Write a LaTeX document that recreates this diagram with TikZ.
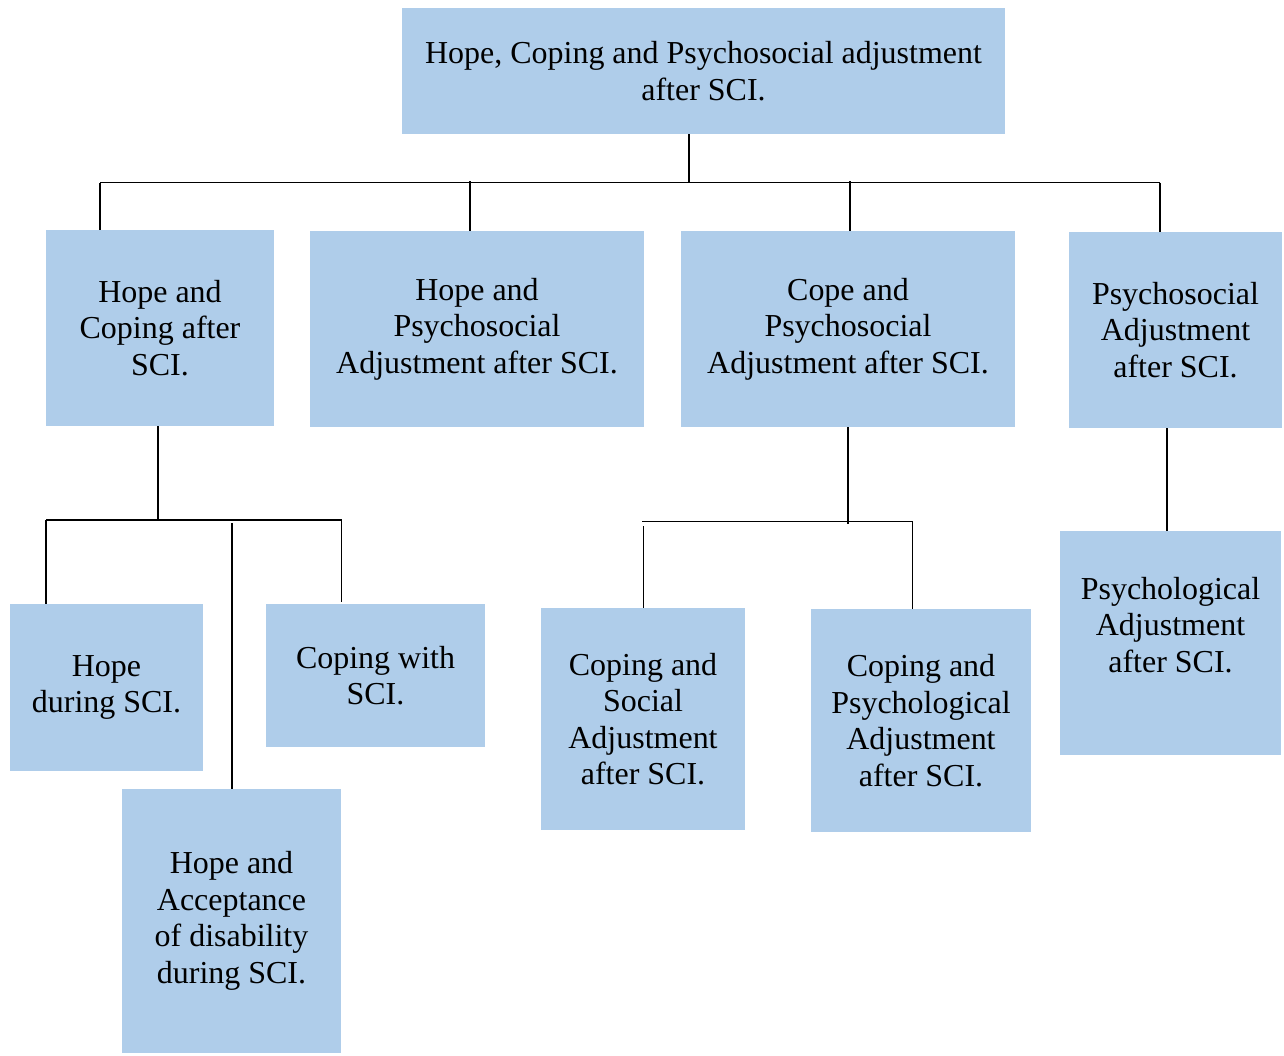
\documentclass[tikz,border=0pt]{standalone}
\usepackage{fontspec}
\setmainfont{Liberation Serif}
\usepackage{xcolor}
\usetikzlibrary{positioning}
\definecolor{boxblue}{RGB}{175,205,234}
\tikzset{
  topic/.style={rectangle, fill=boxblue, draw=none, inner sep=0pt,
                align=center, font=\fontsize{18.2}{20.8}\selectfont},
  link/.style={draw=black, line width=0.9pt},
}

\begin{document}
\begin{tikzpicture}[x=0.02cm, y=-0.02cm]
\useasboundingbox (0,0) rectangle (1284,1055);

% main theme
\node[topic, minimum width=12.06cm, minimum height=2.52cm] (main) at (703.5,71)
      {Hope, Coping and Psychosocial adjustment\\after SCI.};

% sub themes
\node[topic, minimum width=4.56cm, minimum height=3.92cm] (hopecope) at (160,328)
      {Hope and\\Coping after\\SCI.};
\node[topic, minimum width=6.68cm, minimum height=3.92cm] (hopepsy) at (477,329)
      {Hope and\\Psychosocial\\Adjustment after SCI.};
\node[topic, minimum width=6.68cm, minimum height=3.92cm] (copepsy) at (848,329)
      {Cope and\\Psychosocial\\Adjustment after SCI.};
\node[topic, minimum width=4.26cm, minimum height=3.92cm] (psyadj) at (1175.5,330)
      {Psychosocial\\Adjustment\\after SCI.};

% third level
\node[topic, minimum width=3.86cm, minimum height=3.34cm] (hopeduring) at (106.5,687.5)
      {Hope\\during SCI.};
\node[topic, minimum width=4.38cm, minimum height=2.86cm] (copewith) at (375.5,675.5)
      {Coping with\\SCI.};
\node[topic, minimum width=4.38cm, minimum height=5.28cm] (hopeaccept) at (231.5,921)
      {Hope and\\Acceptance\\of disability\\during SCI.};
\node[topic, minimum width=4.08cm, minimum height=4.44cm] (copesocial) at (643,719)
      {Coping and\\Social\\Adjustment\\after SCI.};
\node[topic, minimum width=4.40cm, minimum height=4.46cm] (copepsych) at (921,720.5)
      {Coping and\\Psychological\\Adjustment\\after SCI.};
\node[topic, minimum width=4.42cm, minimum height=4.48cm] (psychadj) at (1170.5,643)
      {Psychological\\Adjustment\\after SCI.\\ \mbox{}};

% junction points
\coordinate (j0) at (689,182.5);
\coordinate (busw) at (100,182.5);
\coordinate (buse) at (1160,182.5);
\coordinate (d2) at (470,181);
\coordinate (d3) at (850,181);
\coordinate (j1) at (158,520.5);
\coordinate (sw1) at (46,520);
\coordinate (se1) at (341.5,520);
\coordinate (se1e) at (341.5,602);
\coordinate (m1) at (232,523);
\coordinate (j3) at (848,524);
\coordinate (sw3) at (642,521.5);
\coordinate (se3) at (912.5,521.5);
\coordinate (d31) at (643.5,526);

% first level links
\draw[link] (j0 |- main.south) -- (j0);
\draw[link] (busw) -- (buse);
\draw[link] (busw) -- (busw |- hopecope.north);
\draw[link] (d2) -- (d2 |- hopepsy.north);
\draw[link] (d3) -- (d3 |- copepsy.north);
\draw[link] (buse) -- (buse |- psyadj.north);

% links below hope and coping
\draw[link] (j1 |- hopecope.south) -- (j1);
\draw[link] (sw1) -- (se1);
\draw[link] (sw1) -- (sw1 |- hopeduring.north);
\draw[link] (se1) -- (se1e);
\draw[link] (m1) -- (m1 |- hopeaccept.north);

% links below cope and psychosocial
\draw[link] (j3 |- copepsy.south) -- (j3);
\draw[link] (sw3) -- (se3);
\draw[link] (d31) -- (d31 |- copesocial.north);
\draw[link] (se3) -- (se3 |- copepsych.north);

% link below psychosocial adjustment
\draw[link] (psyadj.south -| 1167,0) -- (psychadj.north -| 1167,0);

\end{tikzpicture}
\end{document}
